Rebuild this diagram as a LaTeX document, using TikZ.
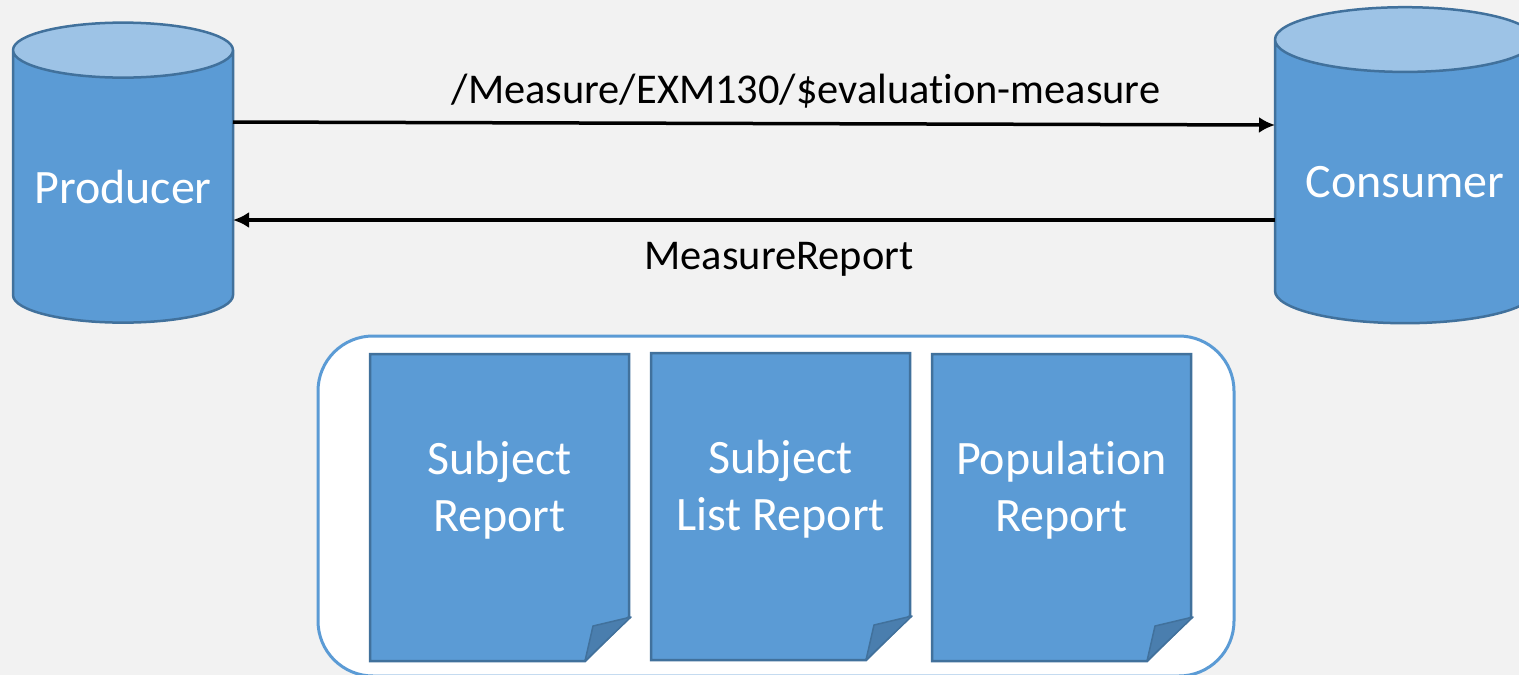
\documentclass[tikz,border=0pt]{standalone}
\usepackage{fontspec}
\setmainfont[Ligatures=CommonOff]{Carlito}
\usepackage{tikz}
\usetikzlibrary{arrows.meta,positioning,calc,shapes.geometric}
\definecolor{pagebg}{HTML}{F2F2F2}
\definecolor{blueface}{HTML}{5B9BD5}
\definecolor{bluetop}{HTML}{9DC3E6}
\definecolor{blueline}{HTML}{41719C}
\definecolor{foldface}{HTML}{4A7EAE}
\tikzset{
  store/.style={cylinder, shape border rotate=90, draw=blueline, line width=2.5pt, cylinder uses custom fill, cylinder body fill=blueface, cylinder end fill=bluetop, inner sep=0pt, text=white, font=\fontsize{48}{57}\selectfont},
  report/.style={align=center, text=white, font=\fontsize{48}{57}\selectfont},
  sheet/.style={draw=blueline, fill=blueface, line width=2.5pt},
  fold/.style={draw=blueline, fill=foldface, line width=1.5pt, line join=round},
  flow/.style={-{Latex[length=16pt,width=16pt]}, line width=3.5pt, black},
  flowlabel/.style={text=black, font=\fontsize{42.4}{50}\selectfont}
}
\begin{document}
\begin{tikzpicture}[x=1pt, y=-1pt]
    \useasboundingbox (0,0) rectangle (1519,675);
    \fill[pagebg] (0,0) rectangle (1519,675);
    % Stores
    \node[store, minimum width=220pt, minimum height=300pt, aspect=0.31] (producer) at (123,187) {Producer};
    \begin{scope}
      \clip (0,0) rectangle (1519,675);
      \node[store, minimum width=260pt, minimum height=316pt, aspect=0.325] (consumer) at (1405,182) {Consumer};
    \end{scope}
    % Report group
    \node[draw=blueface, fill=white, line width=3pt, rounded corners=55pt, minimum width=916pt, minimum height=340pt, inner sep=0pt] (group) at (776,506) {};
    % Reports
    \foreach \px/\py/\pname/\ptext in {370/354/subject/{Subject\\Report}, 651/353/list/{Subject\\List Report}, 932/354/population/{Population\\Report}} {
      \draw[sheet] (\px,\py) -- ++(259,0) -- ++(0,263) -- ++(-44,44) -- ++(-215,0) -- cycle;
      \draw[fold] (\px+259+2,\py+263) -- (\px+223,\py+272) -- (\px+215,\py+307) -- cycle;
      \node[report] (\pname) at (\px+129.5,\py+136) {\ptext};
    }
    % Connectors
    \coordinate (reqstart) at (233,122);
    \coordinate (reqend) at (1275,125);
    \coordinate (respstart) at (1275,220);
    \coordinate (respend) at (233,220);
    \draw[flow] (reqstart) -- (reqend);
    \draw[flow] (respstart) -- (respend);
    % Labels
    \node[flowlabel] (reqlabel) at (806,91.5) {/Measure/EXM130/\$evaluation-measure};
    \node[flowlabel] (resplabel) at (779,259) {MeasureReport};
\end{tikzpicture}
\end{document}
